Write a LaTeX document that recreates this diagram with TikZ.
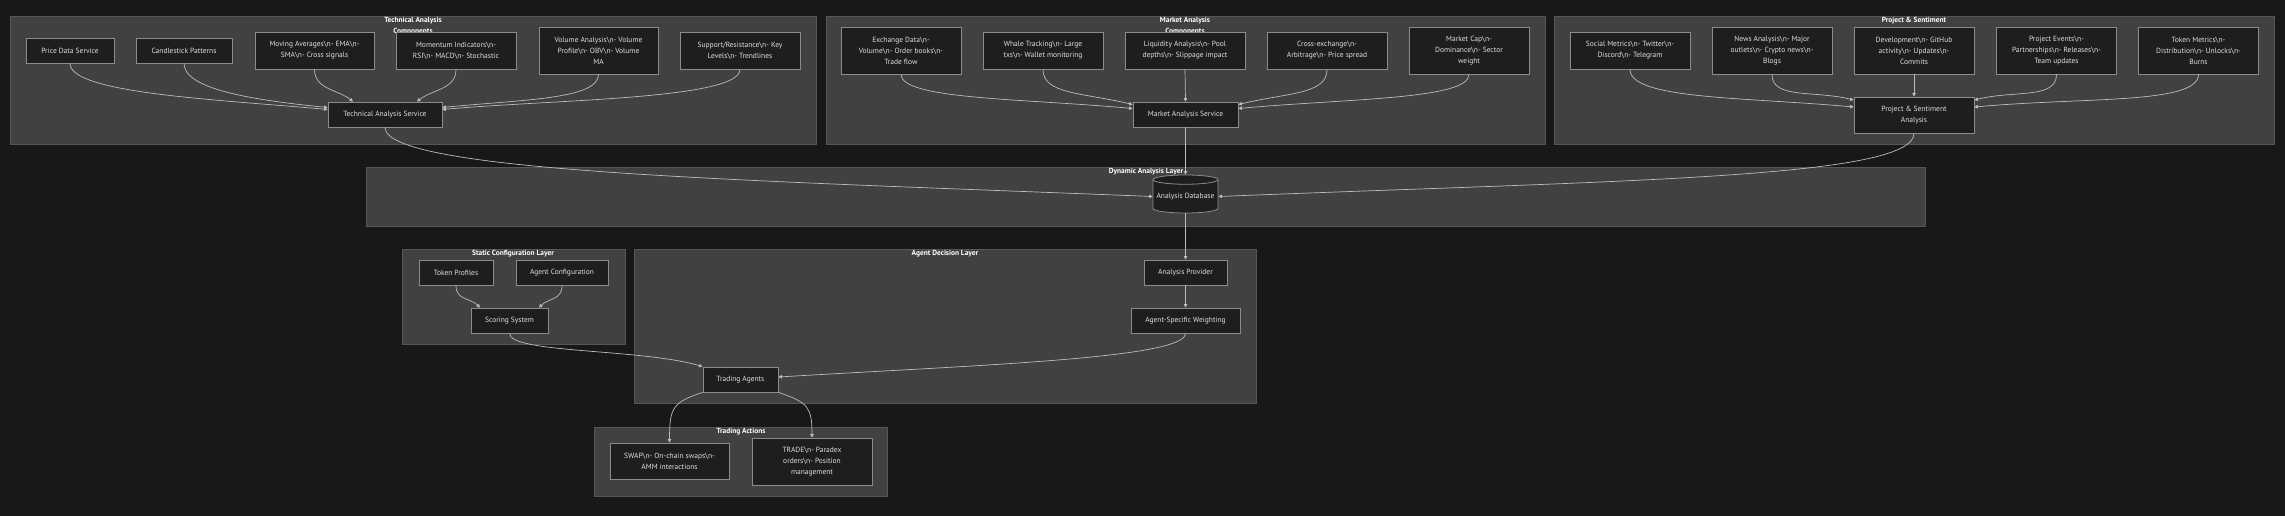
\documentclass[tikz,border=0pt]{standalone}
\usepackage{fontspec}
\setmainfont{PT Sans}
\usetikzlibrary{arrows.meta,shapes.geometric}

\definecolor{bgcol}{HTML}{181818}
\definecolor{groupfill}{HTML}{404140}
\definecolor{groupline}{HTML}{555655}
\definecolor{boxfill}{HTML}{1E1E1E}
\definecolor{boxline}{HTML}{8C8C8C}
\definecolor{boxtext}{HTML}{E0E0E0}
\definecolor{linkcol}{HTML}{BDBDBD}

\newcommand{\bsn}{\textbackslash n}

\begin{document}
\begin{tikzpicture}[x=1pt,y=-1pt,
	box/.style={ draw=boxline, fill=boxfill, text=boxtext, line width=0.8pt, inner sep=0pt, align=center, font=\fontsize{7.5}{11}\selectfont, minimum height=25 },
	dbase/.style={ cylinder, shape border rotate=90, aspect=0.16, draw=boxline, fill=boxfill, text=boxtext, line width=0.8pt, inner sep=0pt, font=\fontsize{7.5}{11}\selectfont, minimum width=65, minimum height=38 },
	group/.style={ fill=groupfill, draw=groupline, line width=0.8pt },
	grouptitle/.style={ text=white, inner sep=0pt, align=center, font=\bfseries\fontsize{7.4}{10.5}\selectfont },
	link/.style={ draw=linkcol, line width=0.7pt, -{Triangle[length=3.5pt,width=3.5pt]} }
]

\useasboundingbox (0,0) rectangle (2285,515);
\fill[bgcol] (-5,-5) rectangle (2290,520);

\fill[group] (10,16) rectangle (816,144);
\fill[group] (826,16) rectangle (1545,144);
\fill[group] (1554,16) rectangle (2274,144);
\fill[group] (366,167) rectangle (1925,226);
\fill[group] (402,249) rectangle (625,344);
\fill[group] (634,249) rectangle (1256,403);
\fill[group] (594,427) rectangle (887,496);

\node[grouptitle] at (413,26) (ttech) {Technical Analysis\\Components};
\node[grouptitle] at (1185,26) (tmarket) {Market Analysis\\Components};
\node[grouptitle] at (1914,21) (tproject) {Project \& Sentiment};
\node[grouptitle] at (1146,172) (tdynamic) {Dynamic Analysis Layer};
\node[grouptitle] at (513,254) (tstatic) {Static Configuration Layer};
\node[grouptitle] at (945,254) (tagent) {Agent Decision Layer};
\node[grouptitle] at (741,432) (tactions) {Trading Actions};

\node[box, minimum width=88] at (70,50.5) (pds) {Price Data Service};
\node[box, minimum width=96] at (184,50.5) (cp) {Candlestick Patterns};
\node[box, minimum width=119, minimum height=37] at (314.5,50.5) (ma) {Moving Averages\bsn- EMA\bsn-\\SMA\bsn- Cross signals};
\node[box, minimum width=120, minimum height=37] at (456,50.5) (mi) {Momentum Indicators\bsn-\\RSI\bsn- MACD\bsn- Stochastic};
\node[box, minimum width=119, minimum height=47] at (598.5,50.5) (va) {Volume Analysis\bsn- Volume\\Profile\bsn- OBV\bsn- Volume\\MA};
\node[box, minimum width=120, minimum height=37] at (740,50.5) (sr) {Support/Resistance\bsn- Key\\Levels\bsn- Trendlines};
\node[box, minimum width=114] at (385,114.5) (tas) {Technical Analysis Service};

\node[box, minimum width=120, minimum height=47] at (901,50.5) (ed) {Exchange Data\bsn-\\Volume\bsn- Order books\bsn-\\Trade flow};
\node[box, minimum width=120, minimum height=37] at (1043,50.5) (wt) {Whale Tracking\bsn- Large\\txs\bsn- Wallet monitoring};
\node[box, minimum width=120, minimum height=37] at (1185,50.5) (la) {Liquidity Analysis\bsn- Pool\\depths\bsn- Slippage impact};
\node[box, minimum width=120, minimum height=37] at (1327,50.5) (ce) {Cross-exchange\bsn-\\Arbitrage\bsn- Price spread};
\node[box, minimum width=120, minimum height=47] at (1469,50.5) (mc) {Market Cap\bsn-\\Dominance\bsn- Sector\\weight};
\node[box, minimum width=105] at (1185.5,114.5) (mas) {Market Analysis Service};

\node[box, minimum width=120, minimum height=37] at (1630,50.5) (sm) {Social Metrics\bsn- Twitter\bsn-\\Discord\bsn- Telegram};
\node[box, minimum width=120, minimum height=47] at (1772,50.5) (na) {News Analysis\bsn- Major\\outlets\bsn- Crypto news\bsn-\\Blogs};
\node[box, minimum width=120, minimum height=47] at (1914,50.5) (dv) {Development\bsn- GitHub\\activity\bsn- Updates\bsn-\\Commits};
\node[box, minimum width=120, minimum height=47] at (2056.5,50.5) (pe) {Project Events\bsn-\\Partnerships\bsn- Releases\bsn-\\Team updates};
\node[box, minimum width=120, minimum height=47] at (2198.5,50.5) (tm) {Token Metrics\bsn-\\Distribution\bsn- Unlocks\bsn-\\Burns};
\node[box, minimum width=120, minimum height=36] at (1914,115) (psa) {Project \& Sentiment\\Analysis};

\node[dbase] at (1185.5,196.5) (db) {Analysis Database};

\node[box, minimum width=74] at (456,272.5) (tp) {Token Profiles};
\node[box, minimum width=92] at (562,272.5) (ac) {Agent Configuration};
\node[box, minimum width=77] at (509.5,320.5) (ss) {Scoring System};

\node[box, minimum width=83] at (1185.5,272.5) (ap) {Analysis Provider};
\node[box, minimum width=109] at (1185.5,320.5) (asw) {Agent-Specific Weighting};
\node[box, minimum width=75] at (740.5,379.5) (ta) {Trading Agents};

\node[box, minimum width=119, minimum height=36] at (669.5,461) (swap) {SWAP\bsn- On-chain swaps\bsn-\\AMM interactions};
\node[box, minimum width=120, minimum height=47] at (812,461.5) (trade) {TRADE\bsn- Paradex\\orders\bsn- Position\\management};

\draw[link] (pds.south) .. controls +(0,30) and +(-110,-10) .. ([yshift=5pt]tas.west);
\draw[link] (cp.south) .. controls +(0,25) and +(-80,-8) .. ([yshift=7pt]tas.west);
\draw[link] (ma.south) .. controls +(0,20) and +(-15,-12) .. ([xshift=-32pt]tas.north);
\draw[link] (mi.south) .. controls +(0,20) and +(15,-12) .. ([xshift=32pt]tas.north);
\draw[link] (va.south) .. controls +(0,25) and +(80,-8) .. ([yshift=7pt]tas.east);
\draw[link] (sr.south) .. controls +(0,30) and +(110,-10) .. ([yshift=5pt]tas.east);

\draw[link] (ed.south) .. controls +(0,25) and +(-110,-10) .. ([yshift=6pt]mas.west);
\draw[link] (wt.south) .. controls +(0,25) and +(-50,-12) .. ([yshift=10pt]mas.west);
\draw[link] (la.south) -- (mas.north);
\draw[link] (ce.south) .. controls +(0,25) and +(50,-12) .. ([yshift=10pt]mas.east);
\draw[link] (mc.south) .. controls +(0,25) and +(110,-10) .. ([yshift=6pt]mas.east);

\draw[link] (sm.south) .. controls +(0,30) and +(-110,-10) .. ([yshift=8pt]psa.west);
\draw[link] (na.south) .. controls +(0,25) and +(-40,-10) .. ([yshift=15pt]psa.west);
\draw[link] (dv.south) -- (psa.north);
\draw[link] (pe.south) .. controls +(0,25) and +(40,-10) .. ([yshift=15pt]psa.east);
\draw[link] (tm.south) .. controls +(0,30) and +(110,-10) .. ([yshift=8pt]psa.east);

\draw[link] (tas.south) .. controls +(0,45) and +(-400,-16) .. (db.west);
\draw[link] (mas.south) -- (db.north);
\draw[link] (psa.south) .. controls +(0,45) and +(400,-16) .. (db.east);
\draw[link] (db.south) -- (ap.north);
\draw[link] (ap.south) -- (asw.north);

\draw[link] (tp.south) .. controls +(0,15) and +(-10,-10) .. ([xshift=-29.5pt]ss.north);
\draw[link] (ac.south) .. controls +(0,15) and +(10,-10) .. ([xshift=29.5pt]ss.north);
\draw[link] (ss.south) .. controls +(0,20) and +(-60,-18) .. (ta.north west);
\draw[link] (asw.south) .. controls +(0,25) and +(200,-12) .. ([yshift=2.5pt]ta.east);

\draw[link] (ta.south west) .. controls +(-30,10) and +(0,-35) .. (swap.north);
\draw[link] (ta.south east) .. controls +(30,10) and +(0,-30) .. (trade.north);

\end{tikzpicture}
\end{document}
